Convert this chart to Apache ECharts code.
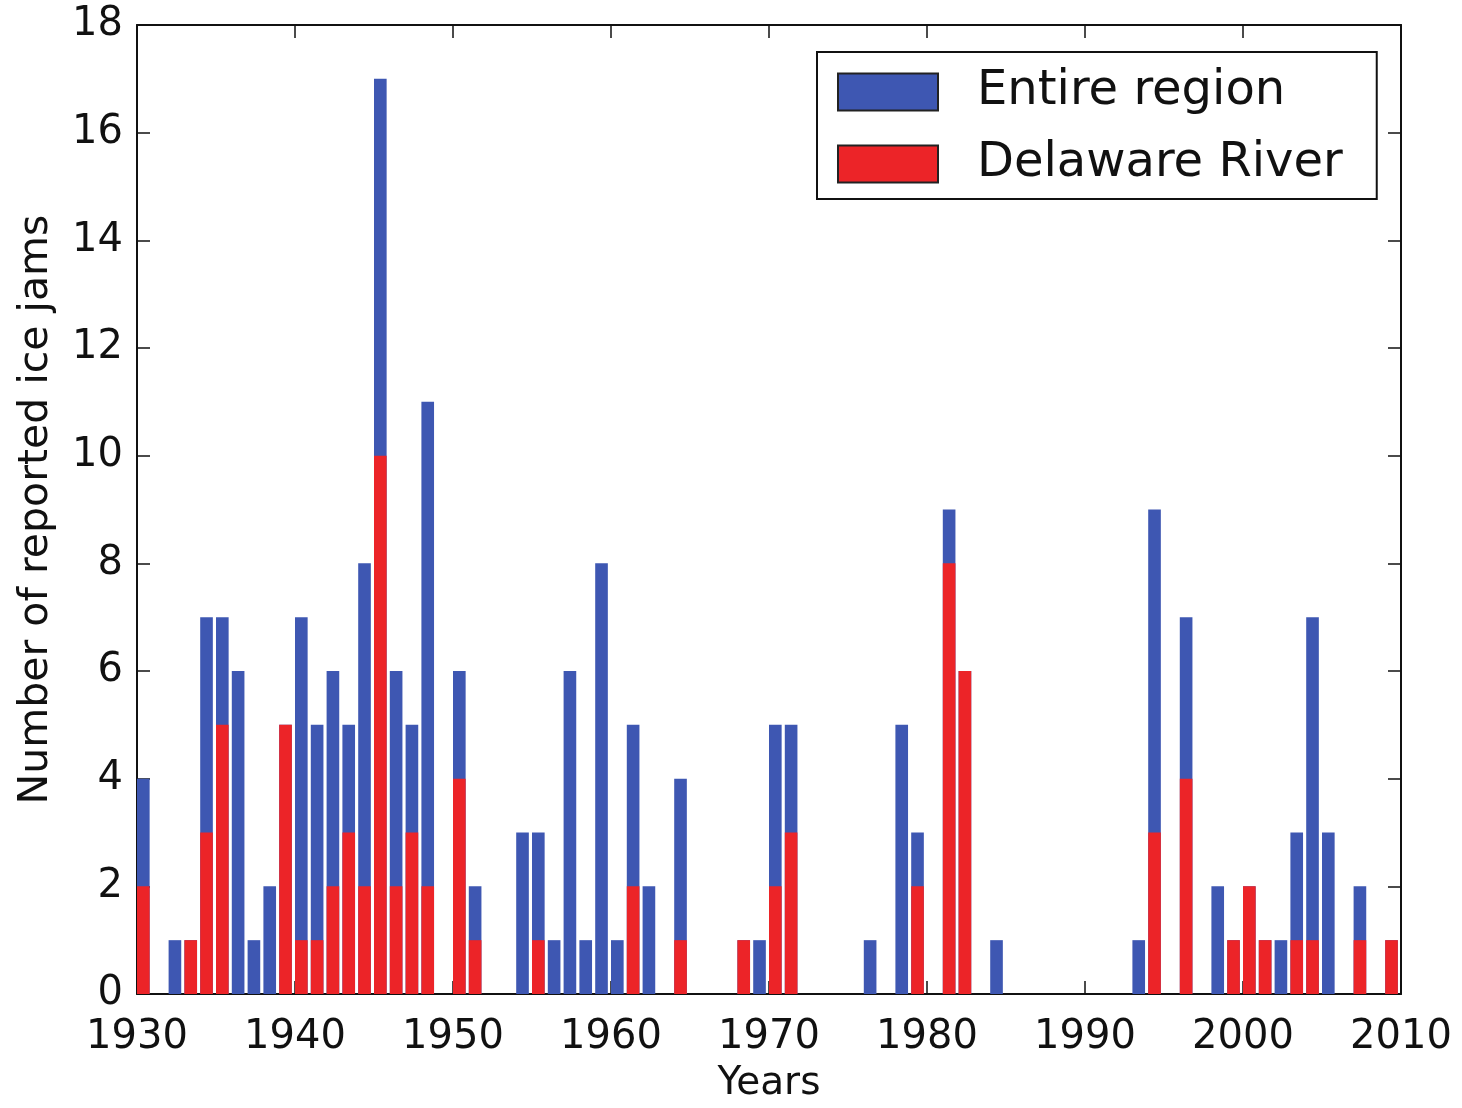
<!DOCTYPE html>
<html>
<head>
<meta charset="utf-8">
<script src="https://cdn.jsdelivr.net/npm/echarts@6/dist/echarts.min.js"></script>
<style>
  html, body { margin: 0; padding: 0; background: #fff; }
  #chart { width: 1462px; height: 1108px; }
</style>
</head>
<body>
<div id="chart"></div>
<script>
// Reported ice jams per year
const years = [1930, 1932, 1933, 1934, 1935, 1936, 1937, 1938, 1939, 1940,
               1941, 1942, 1943, 1944, 1945, 1946, 1947, 1948, 1950, 1951,
               1954, 1955, 1956, 1957, 1958, 1959, 1960, 1961, 1962, 1964,
               1968, 1969, 1970, 1971, 1976, 1978, 1979, 1981, 1982, 1984,
               1993, 1994, 1996, 1998, 1999, 2000, 2001, 2002, 2003, 2004,
               2005, 2007, 2009];
const entireRegion = [4, 1, 1, 7, 7, 6, 1, 2, 5, 7,
                      5, 6, 5, 8, 17, 6, 5, 11, 6, 2,
                      3, 3, 1, 6, 1, 8, 1, 5, 2, 4,
                      1, 1, 5, 5, 1, 5, 3, 9, 6, 1,
                      1, 9, 7, 2, 1, 2, 1, 1, 3, 7,
                      3, 2, 1];
const delawareRiver = [2, 0, 1, 3, 5, 0, 0, 0, 5, 1,
                       1, 2, 3, 2, 10, 2, 3, 2, 4, 1,
                       0, 1, 0, 0, 0, 0, 0, 2, 0, 1,
                       1, 0, 2, 3, 0, 0, 2, 8, 6, 0,
                       0, 3, 4, 0, 1, 2, 1, 0, 1, 1,
                       0, 1, 1];
const seriesNames = ['Entire region', 'Delaware River'];
const xTicks = { min: 1930, max: 2010, step: 10 };
const yTicks = { min: 0, max: 18, step: 2 };

// bars span [year, year + 0.8], so each is centred at year + 0.4
const BAR_FRACTION = 0.8;
const toPoints = vals => years.map((y, i) => [y + BAR_FRACTION / 2, vals[i]]);

const FONT = 'DejaVu Sans';
const INK = '#111';

const frameAxis = {
  axisLine: { show: true, onZero: false, lineStyle: { color: INK, width: 2 } },
  axisTick: { show: true, inside: true, length: 13, lineStyle: { color: INK, width: 1.5 } },
  splitLine: { show: false }
};

const chart = echarts.init(document.getElementById('chart'), null, { renderer: 'canvas' });

chart.setOption({
  backgroundColor: '#fff',
  animation: false,
  grid: { left: 137, right: 61, top: 25, bottom: 105, containLabel: false },
  legend: {
    orient: 'vertical',
    left: 817,
    top: 52,
    data: seriesNames,
    icon: 'rect',
    itemWidth: 100,
    itemHeight: 37,
    itemGap: 24,
    padding: [16, 34, 11, 20],
    borderColor: INK,
    borderWidth: 2,
    borderRadius: 0,
    backgroundColor: '#fff',
    itemStyle: { borderColor: '#222', borderWidth: 2 },
    textStyle: {
      fontFamily: FONT,
      fontSize: 48,
      lineHeight: 48,
      color: INK,
      padding: [0, 0, 0, 34]
    }
  },
  xAxis: [
    Object.assign({
      type: 'value',
      min: xTicks.min, max: xTicks.max, interval: xTicks.step,
      name: 'Years',
      nameLocation: 'middle',
      nameGap: 70,
      nameTextStyle: { fontFamily: FONT, fontSize: 39, color: INK },
      axisLabel: { fontFamily: FONT, fontSize: 40, color: INK, margin: 24,
                   formatter: v => String(v) }
    }, frameAxis),
    Object.assign({
      type: 'value', position: 'top',
      min: xTicks.min, max: xTicks.max, interval: xTicks.step,
      axisLabel: { show: false }
    }, frameAxis)
  ],
  yAxis: [
    Object.assign({
      type: 'value',
      min: yTicks.min, max: yTicks.max, interval: yTicks.step,
      name: 'Number of reported ice jams',
      nameLocation: 'middle',
      nameGap: 80,
      nameTextStyle: { fontFamily: FONT, fontSize: 41, color: INK },
      axisLabel: { fontFamily: FONT, fontSize: 40, color: INK, margin: 14 }
    }, frameAxis),
    Object.assign({
      type: 'value', position: 'right',
      min: yTicks.min, max: yTicks.max, interval: yTicks.step,
      axisLabel: { show: false }
    }, frameAxis)
  ],
  series: [
    {
      name: seriesNames[0],
      type: 'bar',
      xAxisIndex: 0, yAxisIndex: 0,
      barWidth: (BAR_FRACTION * 100) + '%',
      barGap: '-100%',
      itemStyle: { color: '#3e57b2' },
      data: toPoints(entireRegion)
    },
    {
      name: seriesNames[1],
      type: 'bar',
      xAxisIndex: 0, yAxisIndex: 0,
      barWidth: (BAR_FRACTION * 100) + '%',
      barGap: '-100%',
      itemStyle: { color: '#ec2428' },
      data: toPoints(delawareRiver)
    }
  ]
});
</script>
</body>
</html>
